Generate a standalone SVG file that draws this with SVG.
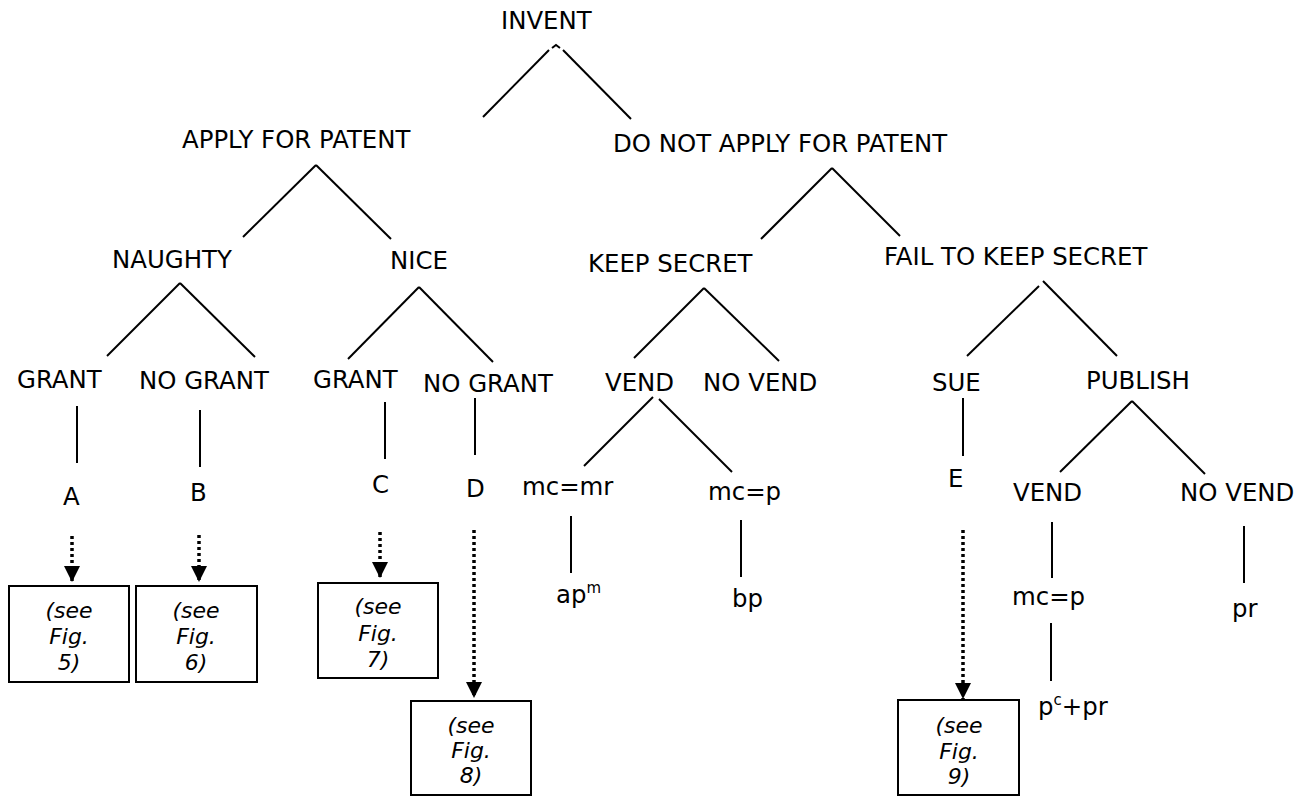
<svg xmlns="http://www.w3.org/2000/svg" width="1305" height="796" viewBox="0 0 1305 796">
<style>
  .t { font-family: "DejaVu Sans", Verdana, sans-serif; font-size: 24.4px; fill: #000; }
  .s { font-size: 15px; }
  .bt { font-family: "DejaVu Sans", Verdana, sans-serif; font-size: 22px; font-style: italic; fill: #000; text-anchor: middle; }
  .ln { stroke: #000; stroke-width: 2; fill: none; }
  .dot { stroke: #000; stroke-width: 3.5; stroke-dasharray: 3 3; fill: none; }
  .box { stroke: #000; stroke-width: 2; fill: #fff; }
</style>
<defs>
  <marker id="ah" viewBox="0 0 10 10" refX="10" refY="5" markerWidth="16" markerHeight="16" markerUnits="userSpaceOnUse" orient="auto">
    <path d="M0,0 L10,5 L0,10 Z" fill="#000"/>
  </marker>
</defs>
<rect width="1305" height="796" fill="#fff"/>

<g id="connectors">
  <line class="ln" x1="483" y1="117" x2="549" y2="50"/>
  <line class="ln" x1="563" y1="50" x2="631" y2="119"/>
  <polyline class="ln" stroke-width="1.2" points="552,48 556,45 560,48"/>
  <line class="ln" x1="316" y1="165" x2="243" y2="237"/>
  <line class="ln" x1="316" y1="165" x2="391" y2="239"/>
  <line class="ln" x1="832" y1="168" x2="761" y2="239"/>
  <line class="ln" x1="832" y1="168" x2="900" y2="236"/>
  <line class="ln" x1="180" y1="283" x2="107" y2="356"/>
  <line class="ln" x1="180" y1="283" x2="255" y2="357"/>
  <line class="ln" x1="419" y1="287" x2="348" y2="359"/>
  <line class="ln" x1="419" y1="287" x2="493" y2="362"/>
  <line class="ln" x1="704" y1="288" x2="634" y2="358"/>
  <line class="ln" x1="704" y1="288" x2="779" y2="361"/>
  <line class="ln" x1="1039" y1="286" x2="967" y2="356"/>
  <line class="ln" x1="1043" y1="281" x2="1117" y2="356"/>
  <line class="ln" x1="77" y1="406" x2="77" y2="463"/>
  <line class="ln" x1="200" y1="410" x2="200" y2="467"/>
  <line class="ln" x1="385" y1="402" x2="385" y2="459"/>
  <line class="ln" x1="475" y1="398" x2="475" y2="455"/>
  <line class="ln" x1="653" y1="397" x2="584" y2="466"/>
  <line class="ln" x1="659" y1="399" x2="732" y2="472"/>
  <line class="ln" x1="571" y1="516" x2="571" y2="573"/>
  <line class="ln" x1="741" y1="520" x2="741" y2="577"/>
  <line class="ln" x1="963" y1="398" x2="963" y2="456"/>
  <line class="ln" x1="1132" y1="401" x2="1060" y2="472"/>
  <line class="ln" x1="1132" y1="401" x2="1205" y2="474"/>
  <line class="ln" x1="1052" y1="522" x2="1052" y2="578"/>
  <line class="ln" x1="1051" y1="623" x2="1051" y2="681"/>
  <line class="ln" x1="1244" y1="526" x2="1244" y2="583"/>
  <line class="dot" x1="72" y1="536" x2="72" y2="582" marker-end="url(#ah)"/>
  <line class="dot" x1="199" y1="535" x2="199" y2="582" marker-end="url(#ah)"/>
  <line class="dot" x1="380" y1="532" x2="380" y2="578" marker-end="url(#ah)"/>
  <line class="dot" x1="474" y1="530" x2="474" y2="698" marker-end="url(#ah)"/>
  <line class="dot" x1="963" y1="530" x2="963" y2="699" marker-end="url(#ah)"/>
</g>

<g id="invent"><text class="t" x="501" y="29">INVENT</text></g>
<g id="apply"><text class="t" x="182" y="148">APPLY FOR PATENT</text></g>
<g id="donotapply"><text class="t" x="613" y="152">DO NOT APPLY FOR PATENT</text></g>
<g id="naughty"><text class="t" x="112" y="268">NAUGHTY</text></g>
<g id="nice"><text class="t" x="390" y="269">NICE</text></g>
<g id="keepsecret"><text class="t" x="588" y="272">KEEP SECRET</text></g>
<g id="failkeep"><text class="t" x="884" y="265">FAIL TO KEEP SECRET</text></g>
<g id="grant1"><text class="t" x="17" y="388">GRANT</text></g>
<g id="nogrant1"><text class="t" x="139" y="389">NO GRANT</text></g>
<g id="grant2"><text class="t" x="313" y="388">GRANT</text></g>
<g id="nogrant2"><text class="t" x="423" y="392">NO GRANT</text></g>
<g id="vend1"><text class="t" x="605" y="391">VEND</text></g>
<g id="novend1"><text class="t" x="703" y="391">NO VEND</text></g>
<g id="sue"><text class="t" x="932" y="391">SUE</text></g>
<g id="publish"><text class="t" x="1086" y="389">PUBLISH</text></g>
<g id="a"><text class="t" x="63" y="505">A</text></g>
<g id="b"><text class="t" x="190" y="501">B</text></g>
<g id="c"><text class="t" x="372" y="493">C</text></g>
<g id="d"><text class="t" x="466" y="497">D</text></g>
<g id="e"><text class="t" x="948" y="487">E</text></g>
<g id="mcmr"><text class="t" x="522" y="495">mc=mr</text></g>
<g id="mcp1"><text class="t" x="708" y="500">mc=p</text></g>
<g id="vend2"><text class="t" x="1013" y="501">VEND</text></g>
<g id="novend2"><text class="t" x="1180" y="501">NO VEND</text></g>
<g id="apm"><text class="t" x="556" y="603">ap<tspan class="s" dy="-10">m</tspan></text></g>
<g id="bp"><text class="t" x="732" y="607">bp</text></g>
<g id="mcp2"><text class="t" x="1012" y="605">mc=p</text></g>
<g id="pr"><text class="t" x="1232" y="617">pr</text></g>
<g id="pcpr"><text class="t" x="1038" y="715">p<tspan class="s" dy="-10">c</tspan><tspan dy="10">+pr</tspan></text></g>

<g id="fig5">
  <rect class="box" x="9" y="586" width="120" height="96"/>
  <text class="bt" x="69" y="618">(see</text>
  <text class="bt" x="69" y="644">Fig.</text>
  <text class="bt" x="69" y="670">5)</text>
</g>
<g id="fig6">
  <rect class="box" x="136" y="586" width="121" height="96"/>
  <text class="bt" x="196" y="618">(see</text>
  <text class="bt" x="196" y="644">Fig.</text>
  <text class="bt" x="196" y="670">6)</text>
</g>
<g id="fig7">
  <rect class="box" x="318" y="583" width="120" height="95"/>
  <text class="bt" x="378" y="614">(see</text>
  <text class="bt" x="378" y="641">Fig.</text>
  <text class="bt" x="378" y="667">7)</text>
</g>
<g id="fig8">
  <rect class="box" x="411" y="701" width="120" height="94"/>
  <text class="bt" x="471" y="733">(see</text>
  <text class="bt" x="471" y="758">Fig.</text>
  <text class="bt" x="471" y="783">8)</text>
</g>
<g id="fig9">
  <rect class="box" x="898" y="700" width="121" height="95"/>
  <text class="bt" x="959" y="733">(see</text>
  <text class="bt" x="959" y="759">Fig.</text>
  <text class="bt" x="959" y="784">9)</text>
</g>
</svg>
